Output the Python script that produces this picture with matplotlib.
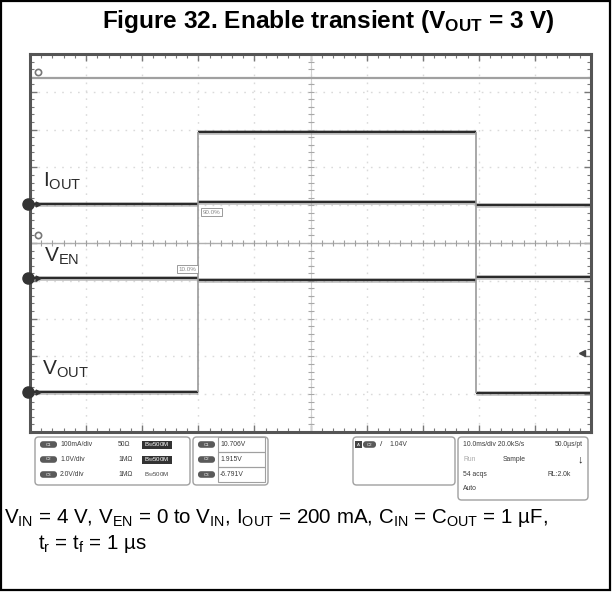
import matplotlib
matplotlib.use("Agg")
import matplotlib.pyplot as plt
from matplotlib.patches import FancyBboxPatch, Rectangle
import numpy as np

plt.rcParams['font.family'] = ['Liberation Sans', 'DejaVu Sans']
plt.rcParams['mathtext.fontset'] = 'custom'
plt.rcParams['mathtext.rm'] = 'Liberation Sans'
plt.rcParams['mathtext.it'] = 'Liberation Sans:italic'
plt.rcParams['mathtext.bf'] = 'Liberation Sans:bold'

# ---------------- data (time in ms, amplitude in screen divisions) -------------
time_edges_ms = [-50.0, -20.0, 29.5, 50.0]
iout_div = [1.03, 1.08, 1.00]
ven_div = [-0.93, -0.98, -0.90]
vout_div = [-3.94, 2.94, -3.97]
ref_line_div = 4.37
trace_labels = ["I$_{\\rm OUT}$", "V$_{\\rm EN}$", "V$_{\\rm OUT}$"]
trace_label_pos = [(-47.7, 1.48), (-47.5, -0.50), (-47.9, -3.49)]
ground_markers_div = [1.03, -0.93, -3.94]
ref_rings_div = [4.52, 0.21]
trigger_marker_div = -2.91
pct_labels = ["90.0%", "10.0%"]
pct_pos = [(-19.2, 0.82), (-20.3, -0.69)]

channels = ["C1", "C2", "C3"]
channel_scales = ["100mA/div", "1.0V/div", "2.0V/div"]
channel_imp = ["50\u03a9", "1M\u03a9", "1M\u03a9"]
meas_values = ["10.706V", "1.915V", "-6.791V"]
trigger_level = "1.04V"

title = "Figure 32. Enable transient (V$_{\\mathbf{OUT}}$ = 3 V)"
caption1 = ("V$_{\\rm IN}$ = 4 V, V$_{\\rm EN}$ = 0 to V$_{\\rm IN}$, I$_{\\rm OUT}$ = 200 mA, "
            "C$_{\\rm IN}$ = C$_{\\rm OUT}$ = 1 \u00b5F,")
caption2 = "t$_{\\rm r}$ = t$_{\\rm f}$ = 1 \u00b5s"

W, H = 612, 592
fig = plt.figure(figsize=(W / 100, H / 100), dpi=100)
fig.patch.set_facecolor("white")


def fx(x):
    return x / W


def fy(y):
    return 1 - y / H


# outer border
fig.add_artist(Rectangle((fx(1), fy(590)), fx(609), 589 / H, transform=fig.transFigure,
                         fill=False, ec="black", lw=1.6))

fig.text(0.537, fy(28), title, ha="center", va="baseline", fontsize=17.6, fontweight="bold")

# ---------------- scope screen -------------
ax = fig.add_axes([fx(30), fy(432), fx(561), 378 / H])
ax.set_xlim(-50, 50)
ax.set_ylim(-5, 5)
ax.set_xticks(np.arange(-50, 51, 10))
ax.set_yticks(np.arange(-5, 6, 1))
ax.set_xticks(np.arange(-50, 51, 2), minor=True)
ax.set_yticks(np.arange(-5, 5.01, 0.2), minor=True)
ax.tick_params(which="both", direction="in", top=True, right=True, labelbottom=False,
               labelleft=False, color="#777")
ax.tick_params(which="major", length=5, width=1)
ax.tick_params(which="minor", length=3, width=0.8)
ax.grid(True, which="major", color="#dadada", linestyle=(0, (1.2, 4.5)), lw=1)
for s in ax.spines.values():
    s.set_color("#555")
    s.set_linewidth(2.2)

# center cross with tick marks
ax.axhline(0, color="#b0b0b0", lw=1)
ax.axvline(0, color="#d0d0d0", lw=0.8)
xt = np.arange(-50, 51, 2)
ax.plot(xt, np.zeros_like(xt), ls="none", marker="|", ms=4, color="#a0a0a0", mew=0.8)
yt = np.arange(-5, 5.01, 0.2)
ax.plot(np.zeros_like(yt), yt, ls="none", marker="_", ms=4, color="#a8a8a8", mew=0.8)

# reference line near top
ax.axhline(ref_line_div, color="#a0a0a0", lw=1.6)

# traces
for levels in (iout_div, ven_div, vout_div):
    for i, lev in enumerate(levels):
        ax.hlines(lev, time_edges_ms[i], time_edges_ms[i + 1], color="#8a8a8a", lw=3.6, alpha=0.45)
        ax.hlines(lev, time_edges_ms[i], time_edges_ms[i + 1], color="#2b2b2b", lw=1.6)
    for j in (1, 2):
        a, b = levels[j - 1], levels[j]
        if abs(a - b) > 0.5:
            ax.vlines(time_edges_ms[j], min(a, b), max(a, b), color="#9a9a9a", lw=1.2)

for (x, y), lab in zip(trace_label_pos, trace_labels):
    ax.text(x, y, lab, fontsize=15, color="#2a2a2a", va="baseline", ha="left")

for (x, y), lab, ha in zip(pct_pos, pct_labels, ("left", "right")):
    ax.text(x, y, lab, fontsize=4.5, color="#888", ha=ha, va="center",
            bbox=dict(boxstyle="square,pad=0.25", fc="white", ec="#9a9a9a", lw=0.7))

# ground markers on left edge
for g in ground_markers_div:
    ax.plot([-50.3], [g], marker="o", ms=8, color="#333", clip_on=False, zorder=5)
    ax.plot([-48.6], [g], marker=">", ms=3.5, color="#333", clip_on=False, zorder=5)
for r in ref_rings_div:
    ax.plot([-48.6], [r], marker="o", ms=4.5, mfc="white", mec="#777", mew=1.2, zorder=5)
ax.plot([48.4], [trigger_marker_div], marker="<", ms=4, color="#444", zorder=5)

# ---------------- info panels -------------
txt_kw = dict(fontsize=4.9, color="#3a3a3a", va="center", transform=fig.transFigure)


def panel(x0, y0, x1, y1):
    fig.add_artist(FancyBboxPatch((fx(x0), fy(y1)), fx(x1 - x0), (y1 - y0) / H,
                                  boxstyle="round,pad=0,rounding_size=0.006",
                                  transform=fig.transFigure, fc="white", ec="#a0a0a0", lw=1.0))


def pill(x0, y, label, w=17):
    fig.add_artist(FancyBboxPatch((fx(x0), fy(y + 3.3)), fx(w), 6.6 / H,
                                  boxstyle="round,pad=0,rounding_size=0.005",
                                  transform=fig.transFigure, fc="#5a5a5a", ec="none"))
    fig.text(fx(x0 + w / 2), fy(y), label, fontsize=3.2, color="white", ha="center",
             va="center", transform=fig.transFigure)


rows = [444.5, 459.5, 474.5]
panel(35, 437, 190, 485)
for i, y in enumerate(rows):
    pill(40, y, channels[i])
    fig.text(fx(60), fy(y), channel_scales[i], **txt_kw)
    fig.text(fx(118), fy(y), channel_imp[i], **txt_kw)
    if i < 2:
        fig.add_artist(Rectangle((fx(142), fy(y + 4)), fx(30), 8 / H, transform=fig.transFigure,
                                 fc="#333", ec="none"))
        fig.text(fx(144), fy(y), "B$_{\\rm W}$500M", fontsize=4.4, color="white", va="center",
                 transform=fig.transFigure)
    else:
        fig.text(fx(144), fy(y), "B$_{\\rm W}$500M", fontsize=4.4, color="#444", va="center",
                 transform=fig.transFigure)

panel(193, 437, 268, 485)
for i, y in enumerate(rows):
    pill(198, y, channels[i])
    fig.add_artist(Rectangle((fx(218), fy(y + 7.5)), fx(47), 15 / H, transform=fig.transFigure,
                             fill=False, ec="#a0a0a0", lw=0.8))
    fig.text(fx(220), fy(y), meas_values[i], **txt_kw)

panel(353, 437, 455, 485)
fig.add_artist(Rectangle((fx(355), fy(448)), fx(6.5), 7 / H, transform=fig.transFigure,
                         fc="#444", ec="none"))
fig.text(fx(358.2), fy(444.5), "A", fontsize=3.2, color="white", ha="center", va="center",
         transform=fig.transFigure)
pill(363, 444.5, channels[1], w=13)
fig.text(fx(380), fy(444.5), "/", fontsize=6, color="#333", va="center", transform=fig.transFigure)
fig.text(fx(389), fy(444.5), trigger_level, **txt_kw)

panel(458, 437, 588, 500)
fig.text(fx(463), fy(444.5), "10.0ms/div 20.0kS/s", **txt_kw)
fig.text(fx(583), fy(444.5), "50.0\u00b5s/pt", ha="right", fontsize=4.9, color="#3a3a3a",
         va="center", transform=fig.transFigure)
fig.text(fx(463), fy(459.5), "Run", fontsize=4.9, color="#aaa", va="center",
         transform=fig.transFigure)
fig.text(fx(503), fy(459.5), "Sample", **txt_kw)
fig.text(fx(578), fy(459.5), "\u2193", fontsize=8, fontweight="bold", color="#222",
         va="center", transform=fig.transFigure)
fig.text(fx(463), fy(474.5), "54 acqs", **txt_kw)
fig.text(fx(548), fy(474.5), "RL:2.0k", **txt_kw)
fig.text(fx(463), fy(488.5), "Auto", **txt_kw)

# ---------------- caption -------------
fig.text(fx(4), fy(523), caption1, fontsize=14.8, ha="left", va="baseline")
fig.text(fx(38), fy(549), caption2, fontsize=14.8, ha="left", va="baseline")

fig.savefig("out.png", dpi=100, facecolor="white")
